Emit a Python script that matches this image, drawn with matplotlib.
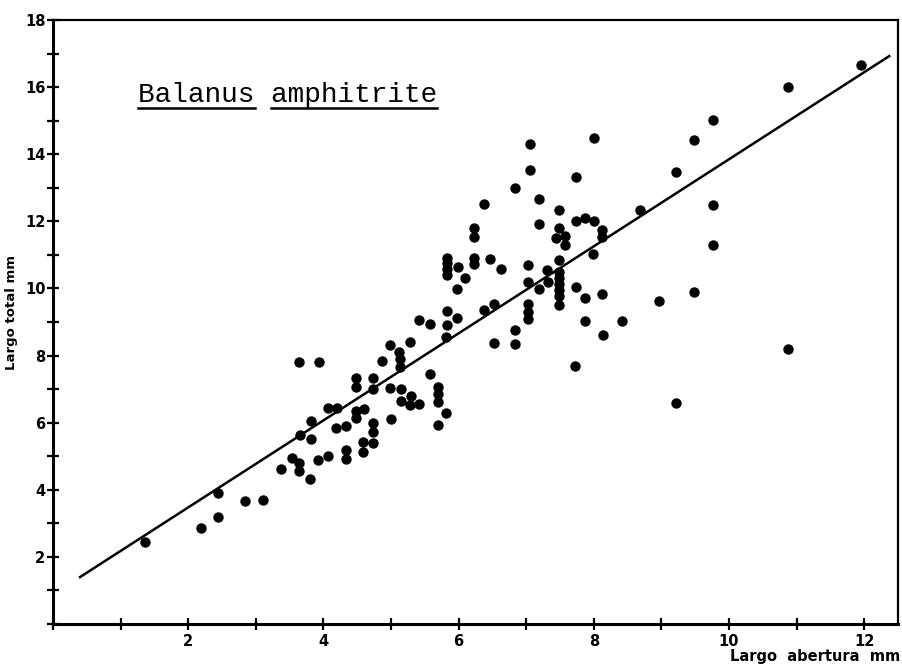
import numpy as np
import matplotlib
matplotlib.use("Agg")
import matplotlib.pyplot as plt
from matplotlib.ticker import MultipleLocator

# Largo abertura (mm) vs largo total (mm)
abertura = [
    1.36, 2.19, 2.44, 2.44, 2.84, 3.11, 3.37, 3.53, 3.64, 3.64,
    3.80, 3.92, 4.07, 3.81, 3.65, 3.81, 3.64, 3.93, 4.07, 4.20,
    4.19, 4.33, 4.34, 4.34, 4.48, 4.48, 4.48, 4.48, 4.60, 4.59,
    4.59, 4.73, 4.73, 4.73, 4.73, 4.74, 4.87, 4.99, 4.99, 5.00,
    5.12, 5.13, 5.13, 5.15, 5.15, 5.29, 5.28, 5.42, 5.28, 5.58,
    5.69, 5.69, 5.69, 5.69, 5.82, 5.82, 5.41, 5.58, 5.83, 5.83,
    5.98, 5.98, 6.09, 5.99, 5.83, 5.83, 5.83, 5.83, 6.23, 6.23,
    6.23, 6.23, 6.47, 6.63, 6.37, 6.52, 6.52, 6.84, 6.84, 6.38,
    6.83, 7.05, 7.05, 7.19, 7.19, 7.03, 7.03, 7.03, 7.03, 7.03,
    7.19, 7.31, 7.32, 7.48, 7.48, 7.48, 7.48, 7.48, 7.48, 7.48,
    7.48, 7.48, 7.44, 7.57, 7.57, 7.74, 7.87, 8.01, 8.12, 8.12,
    7.99, 7.73, 8.00, 7.74, 7.87, 8.12, 7.87, 8.42, 8.13, 7.72,
    8.68, 8.96, 9.22, 9.48, 9.77, 9.77, 9.77, 9.48, 9.21, 10.88,
    10.88, 11.96,
]
total = [
    2.45, 2.85, 3.18, 3.90, 3.67, 3.69, 4.61, 4.95, 4.81, 4.56,
    4.31, 4.89, 5.02, 5.50, 5.62, 6.05, 7.82, 7.82, 6.43, 6.43,
    5.85, 5.91, 5.19, 4.93, 7.32, 7.07, 6.35, 6.13, 6.42, 5.42,
    5.13, 5.39, 5.71, 6.00, 6.99, 7.34, 7.85, 8.30, 7.03, 6.11,
    8.12, 7.90, 7.65, 7.00, 6.66, 6.80, 6.53, 6.55, 8.40, 7.44,
    7.07, 6.85, 6.63, 5.93, 6.28, 8.56, 9.06, 8.93, 9.33, 8.91,
    9.13, 9.98, 10.30, 10.63, 10.92, 10.75, 10.58, 10.40, 11.80, 11.54,
    10.90, 10.72, 10.88, 10.59, 9.35, 9.54, 8.37, 8.76, 8.34, 12.52,
    12.99, 13.53, 14.29, 12.68, 11.91, 10.70, 10.18, 9.55, 9.31, 9.08,
    9.99, 10.56, 10.20, 10.85, 10.50, 10.30, 10.13, 9.95, 9.76, 9.51,
    12.35, 11.79, 11.51, 11.55, 11.29, 12.00, 12.11, 12.00, 11.74, 11.53,
    11.02, 13.31, 14.49, 10.05, 9.71, 9.83, 9.02, 9.02, 8.61, 7.70,
    12.33, 9.63, 13.47, 14.43, 15.02, 12.49, 11.28, 9.88, 6.60, 16.00,
    8.19, 16.66,
]

# regression line drawn on the figure
intercept = 0.88
slope = 1.297
line_x = [0.40, 12.37]

x_ticks = [2, 4, 6, 8, 10, 12]
y_ticks = [2, 4, 6, 8, 10, 12, 14, 16, 18]

fig = plt.figure(figsize=(9.03, 6.69), dpi=100)
ax = fig.add_axes([53 / 903, 45 / 669, 845 / 903, 604 / 669])

ax.scatter(abertura, total, s=56, color="black", zorder=3, linewidths=0)
lx = np.array(line_x)
ax.plot(lx, intercept + slope * lx, color="black", lw=1.8, zorder=2)

ax.set_xlim(0, 12.5)
ax.set_ylim(0, 18)
ax.set_xticks(x_ticks)
ax.set_yticks(y_ticks)
ax.xaxis.set_minor_locator(MultipleLocator(1))
ax.yaxis.set_minor_locator(MultipleLocator(1))
ax.tick_params(which="both", direction="inout", length=9, width=1.6, color="black")
ax.tick_params(axis="x", labelsize=10.5, pad=3)
ax.tick_params(axis="y", labelsize=10.5, pad=1)
for lab in ax.get_xticklabels() + ax.get_yticklabels():
    lab.set_fontweight("bold")

for side in ["left", "bottom"]:
    ax.spines[side].set_linewidth(2.2)
for side in ["top", "right"]:
    ax.spines[side].set_linewidth(1.6)

# axis titles, placed like the hand lettering
fig.text(0.997, 0.008, "Largo  abertura  mm", ha="right", va="bottom",
         fontsize=10.5, fontweight="bold")
fig.text(12 / 903, 1 - 312 / 669, "Largo total mm", rotation=90,
         ha="center", va="center", fontsize=9.5, fontweight="bold")

# species name in typewriter font, each word underlined
name = "Balanus amphitrite"
t = ax.text(1.26, 15.57, name, fontsize=20, family="Liberation Mono",
            ha="left", va="baseline", color="black")
fig.canvas.draw()
bb = t.get_window_extent()
cw = bb.width / len(name)
inv = ax.transData.inverted()
y_ul = ax.transData.transform((0, 15.38))[1]
start = 0
for word in name.split(" "):
    x0 = bb.x0 + start * cw
    x1 = bb.x0 + (start + len(word)) * cw
    p0 = inv.transform((x0, y_ul))
    p1 = inv.transform((x1, y_ul))
    ax.plot([p0[0], p1[0]], [p0[1], p1[1]], color="black", lw=1.8)
    start += len(word) + 1

fig.savefig("out.png", dpi=100)
